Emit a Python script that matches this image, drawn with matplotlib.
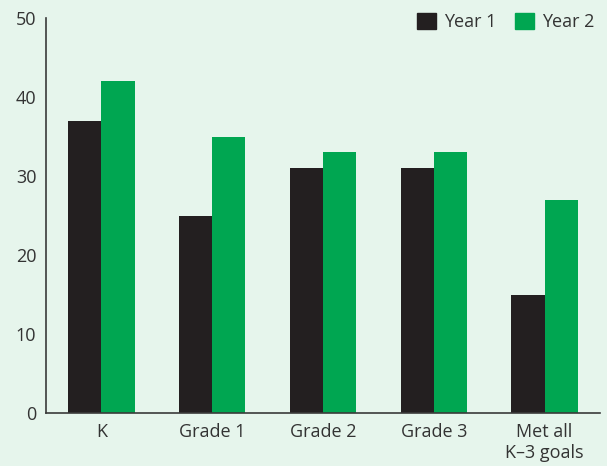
import numpy as np
import matplotlib.pyplot as plt
from matplotlib.patches import Patch

# データ
categories = ['K', 'Grade 1', 'Grade 2', 'Grade 3', 'Met all\nK\u20133 goals']
year1 = [37, 25, 31, 31, 15]
year2 = [42, 35, 33, 33, 27]
yticks = [0, 10, 20, 30, 40, 50]

bg = '#e6f5ec'
dark = '#231f20'
green = '#00a651'
txt = '#333333'

plt.rcParams['font.family'] = ['Open Sans', 'DejaVu Sans']

fig = plt.figure(figsize=(6.07, 4.66), dpi=100, facecolor=bg)
ax = fig.add_axes([46 / 607, 53 / 466, 554 / 607, 395 / 466])
ax.set_facecolor(bg)

x = np.arange(len(categories))
w = 0.3
ax.bar(x - w / 2, year1, w, color=dark)
ax.bar(x + w / 2, year2, w, color=green)

ax.set_xlim(-0.5, len(categories) - 0.5)
ax.set_ylim(0, 50)
ax.set_yticks(yticks)
ax.set_xticks(x)
ax.set_xticklabels(categories, linespacing=1.25)
ax.tick_params(length=0, labelsize=13, colors=txt)
ax.tick_params(axis='y', pad=7)
ax.tick_params(axis='x', pad=7)

for s in ['top', 'right']:
    ax.spines[s].set_visible(False)
for s in ['left', 'bottom']:
    ax.spines[s].set_color('#3a3a3a')
    ax.spines[s].set_linewidth(1.2)

handles = [Patch(color=dark, label='Year 1'), Patch(color=green, label='Year 2')]
leg = fig.legend(handles=handles, loc='upper right', bbox_to_anchor=(1.0, 1.0),
                 ncol=2, frameon=False, fontsize=13, handlelength=1.05, handleheight=1.05,
                 handletextpad=0.45, columnspacing=1.0, labelcolor=txt,
                 borderaxespad=0.3)

fig.savefig('out.png', dpi=100, facecolor=bg)
